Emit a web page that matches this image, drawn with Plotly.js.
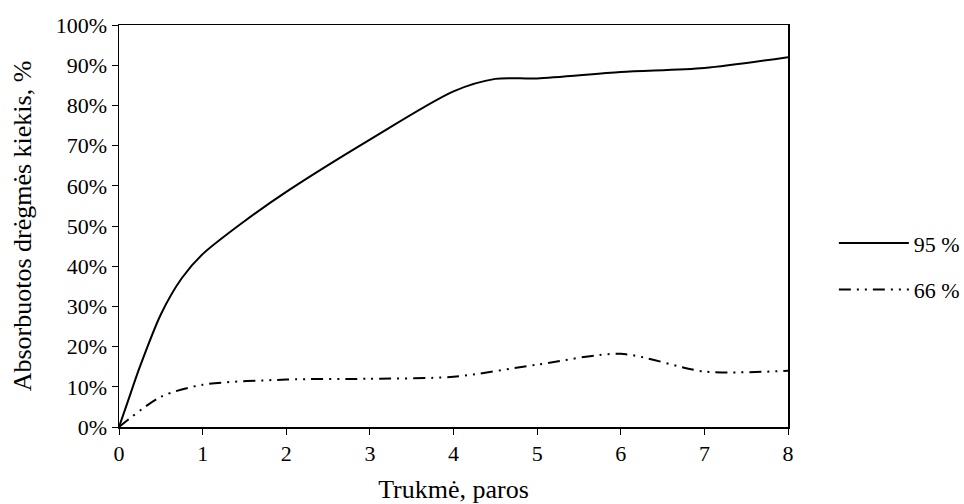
<!DOCTYPE html>
<html><head><meta charset="utf-8">
<script src="https://cdn.plot.ly/plotly-3.0.1.min.js"></script>
<style>body{margin:0;background:#fff}#c{width:964px;height:504px}</style>
</head><body><div id="c"></div>
<script>
var days95 = [0, 0.1, 0.25, 0.5, 0.75, 1, 1.5, 2, 3, 4, 4.5, 5, 6, 7, 8];
var vals95 = [0, 0.06, 0.15, 0.28, 0.37, 0.43, 0.512, 0.585, 0.715, 0.835, 0.866, 0.867, 0.883, 0.893, 0.92];
var days66 = [0, 0.5, 1, 2, 3, 4, 5, 6, 7, 8];
var vals66 = [0, 0.075, 0.105, 0.118, 0.12, 0.125, 0.155, 0.182, 0.138, 0.14];
var seriesNames = ["95 %", "66 %"];
var xTicks = [0,1,2,3,4,5,6,7,8];

var tickFont = {family: "Liberation Serif, Times New Roman, serif", size: 22, color: "#000"};
var titleFont = {family: "Liberation Serif, Times New Roman, serif", size: 26, color: "#000"};
var traces = [
  {x: days95, y: vals95, name: seriesNames[0], legendgroup: "a", mode: "lines", line: {color: "#000", width: 2, shape: "spline", smoothing: 0.8}},
  {x: days66, y: vals66, name: seriesNames[1], legendgroup: "b", mode: "lines", line: {color: "#000", width: 2, shape: "spline", smoothing: 0.8, dash: "12px,6px,2px,6px,2px,6px"}}
];
var layout = {
  width: 964, height: 504,
  margin: {l: 119, r: 176, t: 25, b: 77},
  paper_bgcolor: "#fff", plot_bgcolor: "#fff",
  font: tickFont,
  showlegend: true,
  legend: {xref: "container", yref: "container", x: 0.865, y: 0.471, xanchor: "left", yanchor: "middle", font: tickFont, tracegroupgap: 15, itemwidth: 70, bgcolor: "rgba(0,0,0,0)"},
  xaxis: {
    range: [0, 8], tickvals: xTicks, ticks: "outside", ticklen: 6, tickcolor: "#000",
    showline: true, linecolor: "#000", linewidth: 1.5, mirror: true, showgrid: false, zeroline: false,
    tickfont: tickFont,
    title: {text: "Trukmė, paros", font: titleFont, standoff: 19}
  },
  yaxis: {
    range: [0, 1], dtick: 0.1, tickformat: ".0%", ticks: "outside", ticklen: 6, tickcolor: "#000",
    showline: true, linecolor: "#000", linewidth: 1.5, mirror: true, showgrid: false, zeroline: false,
    tickfont: tickFont,
    title: {text: "Absorbuotos drėgmės kiekis, %", font: titleFont, standoff: 16}
  }
};
Plotly.newPlot("c", traces, layout, {displayModeBar: false, staticPlot: true});
</script></body></html>
